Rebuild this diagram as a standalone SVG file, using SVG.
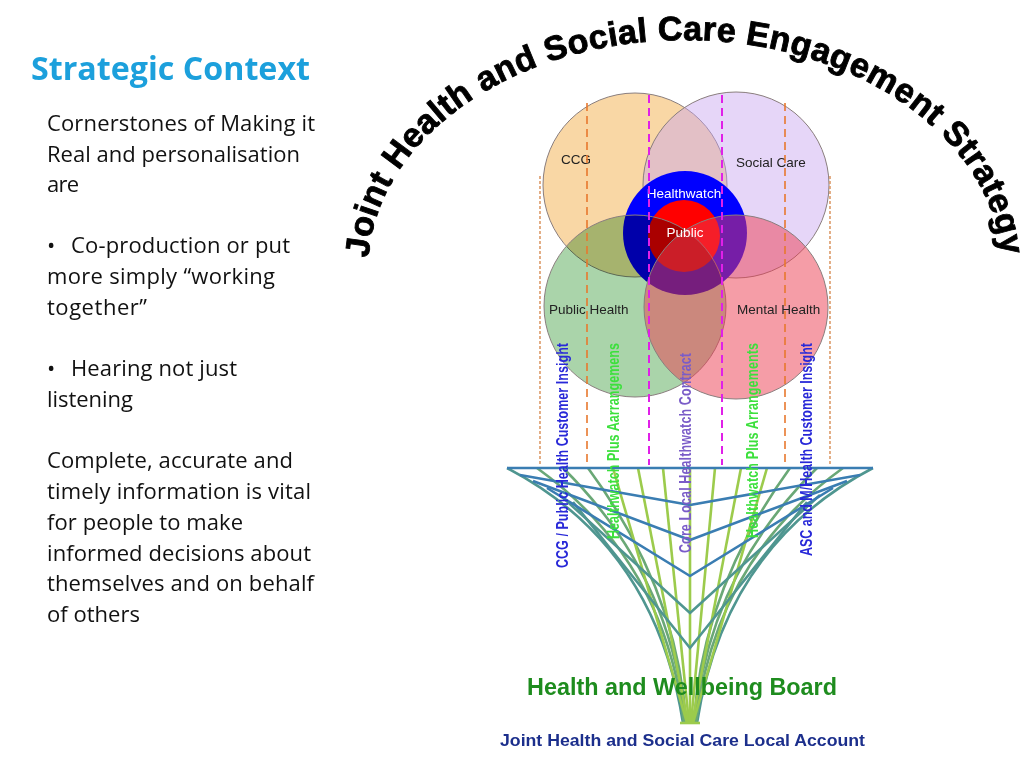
<svg xmlns="http://www.w3.org/2000/svg" width="1024" height="768" viewBox="0 0 1024 768">
<defs>
<style>
.body{font-family:"Open Sans","Liberation Sans",sans-serif;font-size:22px;fill:#111}
.lbl{font-family:"Liberation Sans",Arial,sans-serif;font-size:13.5px;fill:#222}
.wlbl{font-family:"Liberation Sans",Arial,sans-serif;font-size:13.5px;fill:#fff}
.vt{font-family:"Liberation Sans",Arial,sans-serif;font-size:12.5px;font-weight:bold}
.circ{stroke:#8a7e7e;stroke-width:1}
.dOut{stroke:#dc9a68;stroke-width:1.6;stroke-dasharray:3 2;fill:none}
.dOr{stroke:#e8782e;stroke-width:1.6;stroke-dasharray:8 5;fill:none}
.dMg{stroke:#e020e8;stroke-width:2;stroke-dasharray:8 5;fill:none}
.fb{stroke:#3a7db2;stroke-width:2.6;fill:none;stroke-linejoin:round}
.ft{stroke:#4f9690;stroke-width:2.6;fill:none}
.fg{stroke:#6aa876;stroke-width:2.6;fill:none}
.fy{stroke:#9ccb4c;stroke-width:2.6;fill:none}
</style>
<path id="arc" d="M 368,270 A 317,230 0 0 1 1002,270"/>
</defs>
<rect width="1024" height="768" fill="#fff"/>

<g id="left-text">
<text x="31" y="80" font-family="'Open Sans','Liberation Sans',sans-serif" font-size="32" font-weight="bold" fill="#1ca0dc" textLength="279" lengthAdjust="spacingAndGlyphs">Strategic Context</text>
<text class="body" x="47" y="131" textLength="268">Cornerstones of Making it</text>
<text class="body" x="47" y="162" textLength="253">Real and personalisation</text>
<text class="body" x="47" y="192" textLength="32">are</text>
<text class="body" x="47" y="253">•</text>
<text class="body" x="71" y="253" textLength="219">Co-production or put</text>
<text class="body" x="47" y="284" textLength="228">more simply “working</text>
<text class="body" x="47" y="315" textLength="100">together”</text>
<text class="body" x="47" y="376">•</text>
<text class="body" x="71" y="376" textLength="166">Hearing not just</text>
<text class="body" x="47" y="407" textLength="86">listening</text>
<text class="body" x="47" y="468" textLength="246">Complete, accurate and</text>
<text class="body" x="47" y="499" textLength="264">timely information is vital</text>
<text class="body" x="47" y="530" textLength="196">for people to make</text>
<text class="body" x="47" y="561" textLength="264">informed decisions about</text>
<text class="body" x="47" y="591" textLength="267">themselves and on behalf</text>
<text class="body" x="47" y="622" textLength="93">of others</text>
</g>

<g id="arc-title">
<text font-family="'Liberation Sans',Arial,sans-serif" font-size="34" font-weight="bold" letter-spacing="0.4" fill="#000" stroke="#000" stroke-width="0.9"><textPath href="#arc" startOffset="12">Joint Health and Social Care Engagement Strategy</textPath></text>
</g>

<g id="node-ccg">
<circle class="circ" cx="635" cy="185" r="92" fill="#f9d7a5"/>
</g>
<g id="node-social-care">
<circle class="circ" cx="736" cy="185" r="93" fill="rgb(200,165,240)" fill-opacity="0.45"/>
</g>
<g id="node-healthwatch">
<circle cx="685" cy="233" r="62" fill="#0000ff"/>
</g>
<g id="node-public">
<circle cx="684" cy="236" r="36" fill="#ff0000"/>
</g>
<g id="node-public-health">
<circle cx="635" cy="306" r="91" fill="rgb(170,212,170)" style="mix-blend-mode:multiply"/>
<circle cx="635" cy="306" r="91" fill="none" class="circ"/>
</g>
<g id="node-mental-health">
<circle cx="736" cy="307" r="92" fill="rgb(235,60,80)" fill-opacity="0.5"/>
<circle cx="736" cy="307" r="92" fill="none" class="circ"/>
</g>
<g id="circle-labels">
<text class="lbl" x="561" y="164">CCG</text>
<text class="lbl" x="736" y="167">Social Care</text>
<text class="wlbl" x="684" y="198" text-anchor="middle">Healthwatch</text>
<text class="wlbl" x="685" y="237" text-anchor="middle" font-size="14.5">Public</text>
<text class="lbl" x="549" y="314">Public Health</text>
<text class="lbl" x="737" y="314">Mental Health</text>
</g>

<g id="connectors">
<line class="dOut" x1="540" y1="176" x2="540" y2="465"/>
<line class="dOr" x1="587" y1="103" x2="587" y2="465"/>
<line class="dMg" x1="649" y1="95" x2="649" y2="465"/>
<line class="dMg" x1="722" y1="95" x2="722" y2="465"/>
<line class="dOr" x1="785" y1="103" x2="785" y2="465"/>
<line class="dOut" x1="830" y1="176" x2="830" y2="465"/>
</g>

<g id="funnel">
<path class="ft" d="M507,468 Q655,545 683,723"/>
<path class="ft" d="M873,468 Q725,545 697,723"/>
<path class="fg" d="M537,468 Q665,560 684,723"/>
<path class="fg" d="M563,468 Q672,575 685,723"/>
<path class="fg" d="M588,468 Q678,590 686,723"/>
<path class="fg" d="M843,468 Q715,560 696,723"/>
<path class="fg" d="M817,468 Q708,575 695,723"/>
<path class="fg" d="M790,468 Q702,590 694,723"/>
<line class="fy" x1="613" y1="468" x2="687" y2="723"/>
<line class="fy" x1="638" y1="468" x2="688" y2="723"/>
<line class="fy" x1="663" y1="468" x2="689" y2="723"/>
<line class="fy" x1="690" y1="468" x2="690" y2="723"/>
<line class="fy" x1="715" y1="468" x2="691" y2="723"/>
<line class="fy" x1="741" y1="468" x2="692" y2="723"/>
<line class="fy" x1="767" y1="468" x2="693" y2="723"/>
<line class="fy" x1="680" y1="723" x2="700" y2="723"/>
<polyline class="ft" points="573,502 690,648 807,502"/>
<polyline class="ft" points="560,495 690,613 820,495"/>
<polyline class="fb" points="547,488 690,576 833,488"/>
<polyline class="fb" points="533,481 690,540 847,481"/>
<polyline class="fb" points="520,475 690,505 860,475"/>
<line class="fb" x1="507" y1="468" x2="873" y2="468"/>
</g>

<g id="vertical-labels">
<text class="vt" fill="#2828d8" transform="translate(568,568) rotate(-90) scale(1,1.25)" textLength="225">CCG / Public Health  Customer Insight</text>
<text class="vt" fill="#3ce03c" transform="translate(619,539) rotate(-90) scale(1,1.25)" textLength="196">Healthwatch Plus Aarrangemens</text>
<text class="vt" fill="#7a5cc8" transform="translate(691,553) rotate(-90) scale(1,1.25)" textLength="200">Core Local Healthwatch Contract</text>
<text class="vt" fill="#3ce03c" transform="translate(758,538) rotate(-90) scale(1,1.25)" textLength="195">Healthwatch Plus Arrangements</text>
<text class="vt" fill="#2828d8" transform="translate(812,556) rotate(-90) scale(1,1.25)" textLength="213">ASC and M/Health Customer Insight</text>
</g>

<g id="bottom-labels">
<text x="527" y="695" font-family="'Liberation Sans',Arial,sans-serif" font-size="23" font-weight="bold" fill="#1e8c1e" textLength="310" lengthAdjust="spacingAndGlyphs">Health and Wellbeing Board</text>
<text x="500" y="746" font-family="'Liberation Sans',Arial,sans-serif" font-size="16.5" font-weight="bold" fill="#1c2f8c" textLength="365" lengthAdjust="spacingAndGlyphs">Joint Health and Social Care Local Account</text>
</g>
</svg>
